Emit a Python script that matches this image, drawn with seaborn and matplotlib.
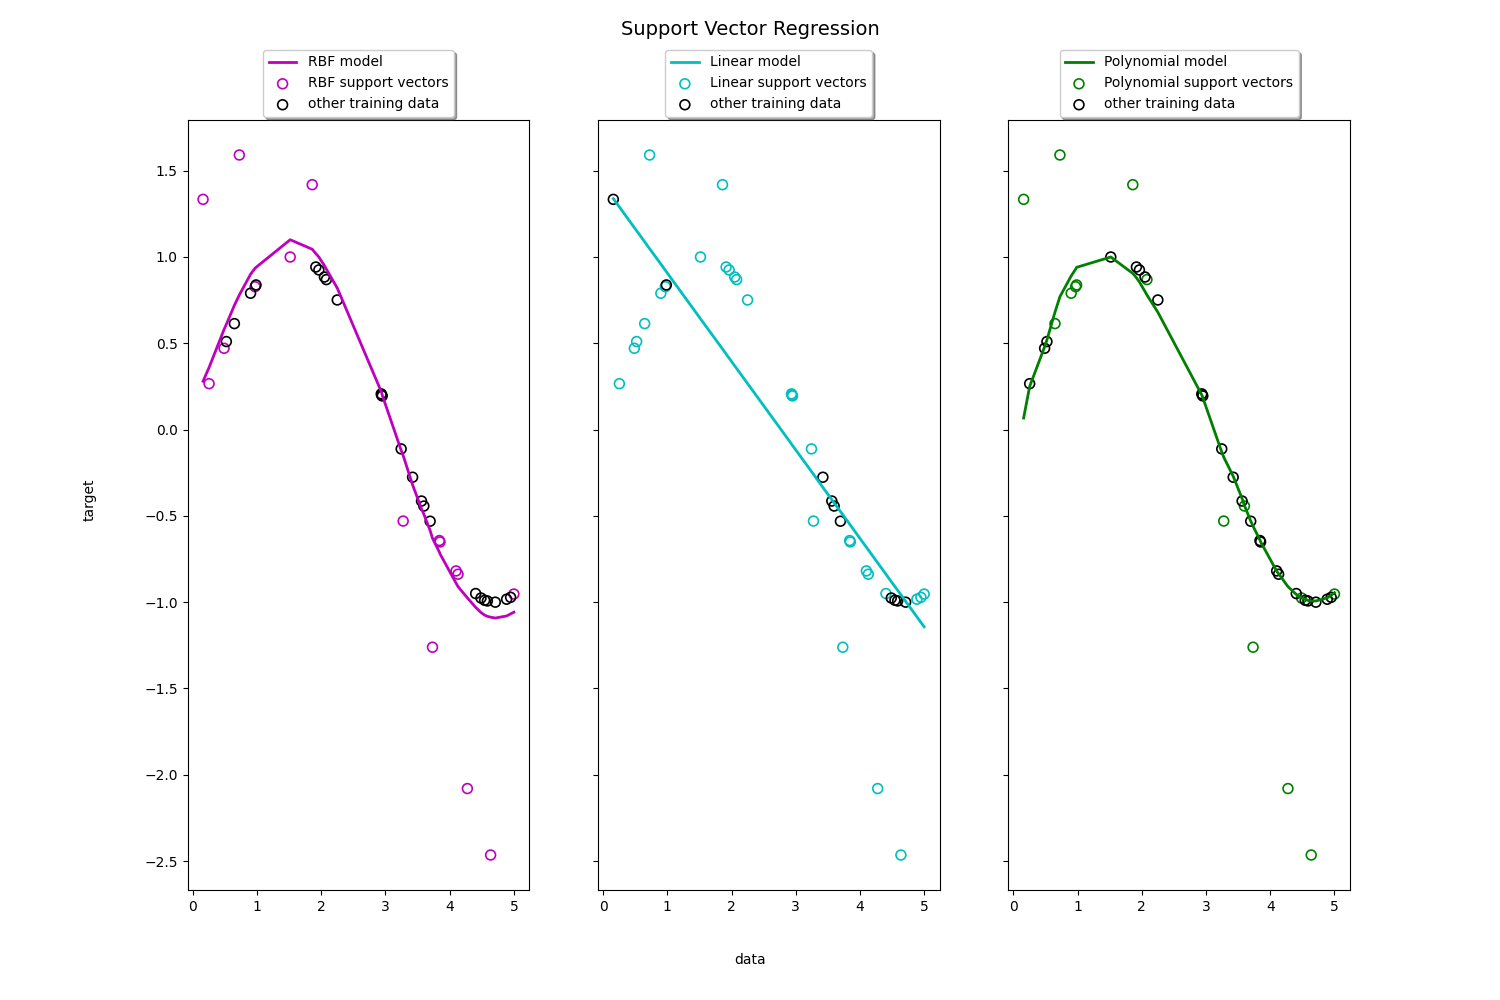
import numpy as np
import pandas as pd
import matplotlib
matplotlib.use("Agg")
import matplotlib.pyplot as plt
import seaborn as sns

# ---- data ----
X = [0.160, 0.254, 0.487, 0.523, 0.648, 0.725, 0.900, 0.970, 0.985, 1.517,
     1.860, 1.916, 1.963, 2.050, 2.080, 2.250, 2.935, 2.940, 2.950, 3.245,
     3.276, 3.423, 3.562, 3.598, 3.696, 3.733, 3.840, 3.850, 4.100, 4.130,
     4.276, 4.405, 4.488, 4.545, 4.587, 4.638, 4.711, 4.887, 4.949, 5.000]
y = [1.334, 0.266, 0.471, 0.510, 0.614, 1.591, 0.790, 0.828, 0.838, 1.000,
     1.419, 0.942, 0.925, 0.884, 0.869, 0.751, 0.207, 0.200, 0.195, -0.112,
     -0.530, -0.276, -0.414, -0.443, -0.531, -1.261, -0.643, -0.651, -0.819, -0.838,
     -2.080, -0.950, -0.976, -0.989, -0.993, -2.465, -1.000, -0.983, -0.972, -0.953]

rbf_pred = [0.280, 0.360, 0.580, 0.610, 0.720, 0.780, 0.900, 0.935, 0.940, 1.100,
            1.045, 1.020, 1.000, 0.950, 0.930, 0.820, 0.220, 0.215, 0.200, -0.120,
            -0.150, -0.320, -0.460, -0.490, -0.585, -0.630, -0.710, -0.720, -0.890, -0.910,
            -0.975, -1.030, -1.060, -1.075, -1.082, -1.087, -1.092, -1.080, -1.068, -1.058]
lin_pred = [1.338, 1.290, 1.170, 1.152, 1.088, 1.048, 0.959, 0.923, 0.915, 0.642,
            0.467, 0.438, 0.414, 0.369, 0.354, 0.267, -0.084, -0.087, -0.092, -0.243,
            -0.259, -0.335, -0.406, -0.424, -0.475, -0.493, -0.548, -0.553, -0.682, -0.697,
            -0.772, -0.838, -0.881, -0.910, -0.931, -0.957, -0.995, -1.085, -1.117, -1.143]
poly_pred = [0.067, 0.250, 0.480, 0.520, 0.680, 0.770, 0.890, 0.930, 0.940, 1.000,
             0.905, 0.880, 0.855, 0.800, 0.780, 0.680, 0.200, 0.195, 0.185, -0.130,
             -0.160, -0.270, -0.400, -0.440, -0.530, -0.560, -0.640, -0.650, -0.820, -0.835,
             -0.910, -0.955, -0.975, -0.985, -0.990, -0.993, -0.993, -0.975, -0.960, -0.945]

rbf_sv = [0, 1, 2, 5, 7, 9, 10, 20, 25, 26, 27, 28, 29, 30, 35, 39]
lin_other = [0, 8, 21, 22, 23, 24, 32, 33, 34, 36]
poly_sv = [0, 4, 5, 6, 7, 8, 10, 14, 17, 20, 23, 25, 30, 32, 35, 39]

lin_sv = [i for i in range(len(X)) if i not in lin_other]

model_names = ["RBF", "Linear", "Polynomial"]
model_colors = ["m", "c", "g"]
preds = [rbf_pred, lin_pred, poly_pred]
svs = [rbf_sv, lin_sv, poly_sv]

# ---- plotting ----
Xa = np.array(X)
ya = np.array(y)

fig, axes = plt.subplots(nrows=1, ncols=3, figsize=(15, 10), sharey=True)
for ax, name, color, pred, sv in zip(axes, model_names, model_colors, preds, svs):
    sv_mask = np.zeros(len(X), dtype=bool)
    sv_mask[sv] = True
    sns.lineplot(x=Xa, y=np.array(pred), color=color, lw=2, label=f"{name} model",
                 estimator=None, sort=False, ax=ax)
    sns.scatterplot(x=Xa[sv_mask], y=ya[sv_mask], s=50, marker="o",
                    facecolor="none", edgecolor=color, linewidth=1.2,
                    label=f"{name} support vectors", ax=ax)
    sns.scatterplot(x=Xa[~sv_mask], y=ya[~sv_mask], s=50, marker="o",
                    facecolor="none", edgecolor="k", linewidth=1.2,
                    label="other training data", ax=ax)
    ax.set_xlabel("")
    ax.set_ylabel("")
    ax.legend(loc="upper center", bbox_to_anchor=(0.5, 1.1), ncol=1,
              fancybox=True, shadow=True)

fig.text(0.5, 0.04, "data", ha="center", va="center")
fig.text(0.06, 0.5, "target", ha="center", va="center", rotation="vertical")
fig.suptitle("Support Vector Regression", fontsize=14)
fig.savefig("out.png", dpi=100)
